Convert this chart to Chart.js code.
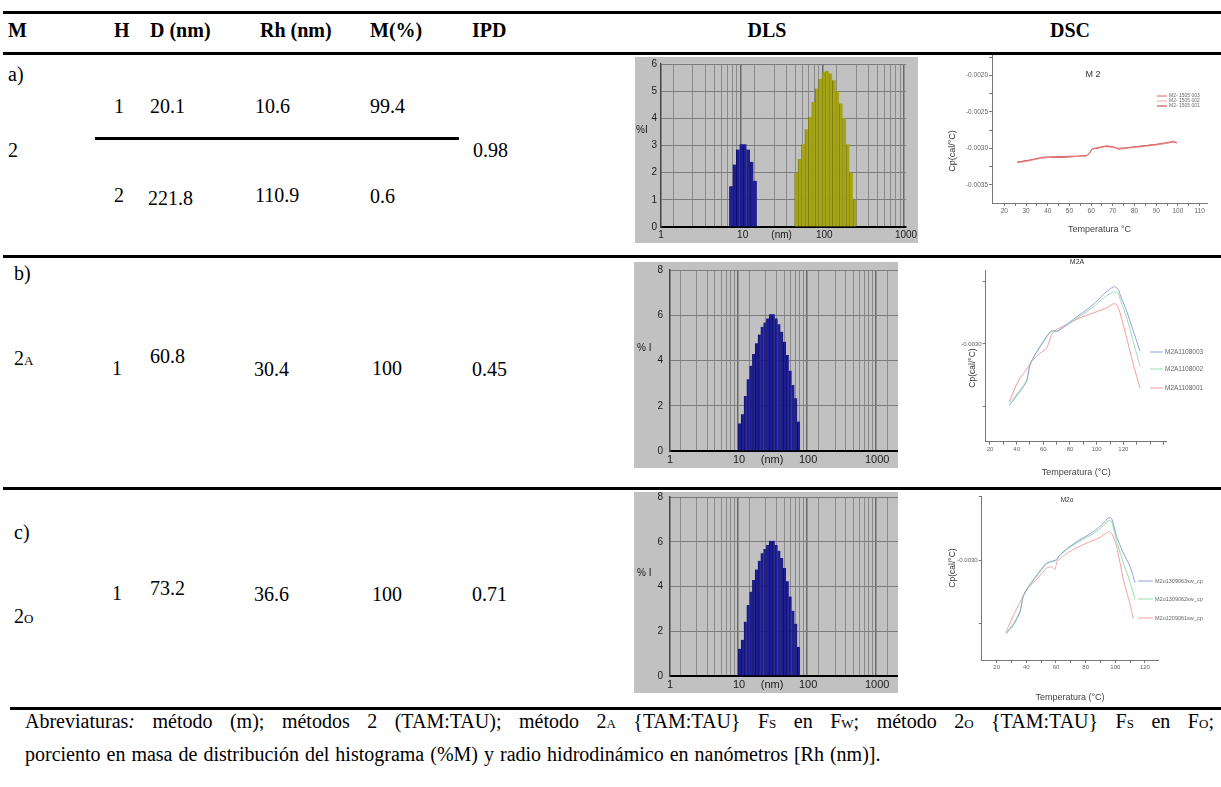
<!DOCTYPE html>
<html lang="es">
<head>
  <meta charset="UTF-8">
  <title>M2: DLS y DSC</title>
  <script src="https://cdn.jsdelivr.net/npm/chart.js"></script>
  <style>
    body {
      margin: 0;
      width: 1221px;
      height: 787px;
      position: relative;
      overflow: hidden;
      background: #fff;
      font-family: 'Liberation Serif', 'Times New Roman', serif;
      color: #000;
    }
    .t { position: absolute; font-size: 20px; line-height: 20px; white-space: nowrap; }
    .hd { font-weight: bold; }
    .c { transform: translateX(-50%); }
    .sm { font-size: 13px; }
    .rule { position: absolute; height: 3px; background: #000; }
    .plot { position: absolute; }
    .dls { background: #c1c1c1; }
    .foot { position: absolute; left: 25px; font-size: 20px; line-height: 20px; white-space: nowrap; }
    .foot .sm { font-size: 13px; }
  </style>
</head>
<body>
  <!-- reglas de la tabla -->
  <div class="rule" style="left:3px;top:11px;width:1218px"></div>
  <div class="rule" style="left:3px;top:52px;width:1218px"></div>
  <div class="rule" style="left:95px;top:137px;width:364px"></div>
  <div class="rule" style="left:3px;top:255px;width:1218px"></div>
  <div class="rule" style="left:3px;top:487px;width:1218px"></div>
  <div class="rule" style="left:10px;top:707px;width:1211px"></div>

  <!-- encabezado -->
  <div class="t hd" style="left:8px;top:20px">M</div>
  <div class="t hd" style="left:114px;top:20px">H</div>
  <div class="t hd" style="left:150px;top:20px">D (nm)</div>
  <div class="t hd" style="left:260px;top:20px">Rh (nm)</div>
  <div class="t hd" style="left:370px;top:20px">M(%)</div>
  <div class="t hd" style="left:472px;top:20px">IPD</div>
  <div class="t hd c" style="left:767px;top:20px">DLS</div>
  <div class="t hd c" style="left:1070px;top:20px">DSC</div>

  <!-- fila a -->
  <div class="t" style="left:8px;top:64px">a)</div>
  <div class="t" style="left:114px;top:96px">1</div>
  <div class="t" style="left:150px;top:96px">20.1</div>
  <div class="t" style="left:255px;top:96px">10.6</div>
  <div class="t" style="left:370px;top:96px">99.4</div>
  <div class="t" style="left:8px;top:140px">2</div>
  <div class="t" style="left:473px;top:140px">0.98</div>
  <div class="t" style="left:114px;top:185px">2</div>
  <div class="t" style="left:148px;top:188px">221.8</div>
  <div class="t" style="left:255px;top:185px">110.9</div>
  <div class="t" style="left:370px;top:186px">0.6</div>

  <!-- fila b -->
  <div class="t" style="left:14px;top:263px">b)</div>
  <div class="t" style="left:14px;top:348px">2<span class="sm">A</span></div>
  <div class="t" style="left:112px;top:358px">1</div>
  <div class="t" style="left:150px;top:346px">60.8</div>
  <div class="t" style="left:254px;top:359px">30.4</div>
  <div class="t" style="left:372px;top:358px">100</div>
  <div class="t" style="left:472px;top:359px">0.45</div>

  <!-- fila c -->
  <div class="t" style="left:14px;top:522px">c)</div>
  <div class="t" style="left:112px;top:583px">1</div>
  <div class="t" style="left:150px;top:578px">73.2</div>
  <div class="t" style="left:254px;top:584px">36.6</div>
  <div class="t" style="left:372px;top:584px">100</div>
  <div class="t" style="left:472px;top:584px">0.71</div>
  <div class="t" style="left:14px;top:606px">2<span class="sm">O</span></div>

  <!-- graficos -->
  <div class="plot dls" style="left:635px;top:57px;width:283px;height:186px"><canvas id="dlsA"></canvas></div>
  <div class="plot dls" style="left:634px;top:262px;width:264px;height:206px"><canvas id="dlsB"></canvas></div>
  <div class="plot dls" style="left:634px;top:492px;width:264px;height:201px"><canvas id="dlsC"></canvas></div>
  <div class="plot" style="left:940px;top:50px;width:275px;height:190px"><canvas id="dscA"></canvas></div>
  <div class="plot" style="left:940px;top:255px;width:275px;height:228px"><canvas id="dscB"></canvas></div>
  <div class="plot" style="left:940px;top:490px;width:275px;height:215px"><canvas id="dscC"></canvas></div>

  <!-- pie -->
  <div class="foot" style="top:711px;word-spacing:12.5px">Abreviaturas<i>:</i> método (m); métodos 2 (TAM:TAU); método 2<span class="sm">A</span> {TAM:TAU} F<span class="sm">S</span> en F<span class="sm">W</span>; método 2<span class="sm">O</span> {TAM:TAU} F<span class="sm">S</span> en F<span class="sm">O</span>;</div>
  <div class="foot" style="top:744px;word-spacing:1px">porciento en masa de distribución del histograma (%M) y radio hidrodinámico en nanómetros [Rh (nm)].</div>

  <script>
    // ---- DLS: centro de cada clase (nm) y % de intensidad ----
    const dlsA_blueX = [7.23, 7.96, 8.77, 9.66, 10.64, 11.72, 12.91, 14.22];
    const dlsA_blueY = [1.5, 2.3, 2.85, 3.05, 3.05, 2.85, 2.4, 1.7];
    const dlsA_oliveX = [45.4, 50.0, 55.1, 60.7, 66.8, 73.6, 81.1, 89.3, 98.4, 108.4, 119.4, 131.5, 144.9, 159.6, 175.8, 193.6, 213.3, 235.0];
    const dlsA_oliveY = [2.0, 2.5, 3.05, 3.6, 4.05, 4.6, 5.1, 5.45, 5.7, 5.75, 5.65, 5.4, 5.0, 4.55, 4.0, 3.05, 2.0, 1.0];
    const dlsB_X = [10.24, 11.24, 12.35, 13.56, 14.89, 16.34, 17.95, 19.71, 21.63, 23.76, 26.09, 28.64, 31.45, 34.53, 37.91, 41.63, 45.70, 50.18, 55.10, 60.49, 66.42, 72.93];
    const dlsB_Y = [1.22, 1.62, 2.43, 3.17, 3.77, 4.29, 4.76, 5.15, 5.49, 5.68, 5.86, 6.04, 6.04, 5.86, 5.6, 5.27, 4.83, 4.24, 3.55, 2.92, 2.33, 1.30];
    const dlsC_X = [10.24, 11.24, 12.35, 13.56, 14.89, 16.34, 17.95, 19.71, 21.63, 23.76, 26.09, 28.64, 31.45, 34.53, 37.91, 41.63, 45.70, 50.18, 55.10, 60.49, 66.42, 72.93];
    const dlsC_Y = [1.22, 1.62, 2.43, 3.17, 3.77, 4.29, 4.76, 5.15, 5.49, 5.68, 5.86, 6.04, 6.04, 5.86, 5.6, 5.27, 4.83, 4.24, 3.55, 2.92, 2.33, 1.30];

    const dlsTicksA = [1, 2, 3, 4, 5, 6, 7, 8, 9, 10, 20, 30, 40, 50, 60, 70, 80, 90, 100, 200, 300, 400, 500, 600, 700, 800, 900, 1000];
    const dlsTicksBC = [1, 2, 3, 4, 5, 6, 7, 8, 9, 10, 20, 30, 40, 50, 60, 70, 80, 90, 100, 200, 300, 400, 500, 600, 700, 800, 900, 1000, 2000];
    const dlsLabelValues = [1, 10, 30, 100, 1000];
    const dlsLabelTexts = ['1', '10', '(nm)', '100', '1000'];
    const dlsDecades = [1, 10, 100, 1000];

    // ---- DSC: temperatura (°C) y Cp (cal/°C) ----
    const dscA_T = [26, 32, 38, 49, 57.5, 59, 60.5, 63, 66.8, 70, 72.5, 80, 89, 95, 97.8, 99.5];
    const dscA_003 = [-0.00319, -0.00316, -0.00312, -0.00311, -0.00310, -0.00307, -0.00301, -0.00299, -0.00297, -0.00298, -0.00300, -0.00298, -0.00295, -0.00292, -0.00291, -0.00293];
    const dscA_002 = [-0.00320, -0.00317, -0.00313, -0.00311, -0.00311, -0.00308, -0.00302, -0.00299, -0.00298, -0.00299, -0.00300, -0.00299, -0.00296, -0.00293, -0.00290, -0.00292];
    const dscA_001 = [-0.00319, -0.00316, -0.00313, -0.00312, -0.00310, -0.00308, -0.00301, -0.00300, -0.00297, -0.00298, -0.00301, -0.00298, -0.00295, -0.00293, -0.00291, -0.00292];

    const dscB_T = [34.5, 42.5, 47.5, 50, 53.75, 60, 65, 67.5, 70, 72.5, 77.5, 87.5, 97.5, 105, 111.25, 113.75, 116.25, 117.5, 122.5, 127.5, 132.5];
    const dscB_003 = [-0.003491, -0.003379, -0.003299, -0.003165, -0.003085, -0.002979, -0.002904, -0.002893, -0.002899, -0.002885, -0.002845, -0.002765, -0.002685, -0.002605, -0.002552, -0.002544, -0.002565, -0.002605, -0.002739, -0.002899, -0.003059];
    const dscB_002 = [-0.003470, -0.003370, -0.003290, -0.003170, -0.003090, -0.002985, -0.002910, -0.002898, -0.002903, -0.002890, -0.002852, -0.002778, -0.002705, -0.002635, -0.002590, -0.002585, -0.002600, -0.002640, -0.002790, -0.002985, -0.003180];
    const dscB_001T = [34.5, 38.75, 42.5, 47.5, 51.25, 56.25, 62.5, 66.25, 68.75, 72.5, 77.5, 87.5, 97.5, 107.5, 112.5, 115, 117.5, 122.5, 127.5, 132.5];
    const dscB_001 = [-0.003459, -0.003352, -0.003272, -0.003205, -0.003139, -0.003085, -0.003032, -0.002925, -0.002893, -0.002872, -0.002845, -0.002792, -0.002752, -0.002712, -0.002680, -0.002685, -0.002752, -0.002952, -0.003165, -0.003352];

    const dscC_T = [26.3, 31.2, 35.7, 38.0, 42.5, 49.2, 53.7, 57.1, 60.4, 62.7, 69.4, 76.2, 85.2, 91.9, 95.3, 97.5, 100.9, 105.4, 109.9, 113.3];
    const dscC_063 = [-0.003578, -0.003513, -0.003409, -0.003280, -0.003189, -0.003085, -0.003021, -0.003008, -0.002995, -0.002956, -0.002891, -0.002839, -0.002775, -0.002710, -0.002666, -0.002671, -0.002813, -0.002943, -0.003047, -0.003176];
    const dscC_062 = [-0.003570, -0.003500, -0.003400, -0.003285, -0.003195, -0.003090, -0.003028, -0.003012, -0.003000, -0.002962, -0.002898, -0.002848, -0.002790, -0.002730, -0.002689, -0.002695, -0.002850, -0.003020, -0.003170, -0.003306];
    const dscC_061T = [26.3, 31.2, 35.7, 40.2, 47.0, 53.7, 57.1, 59.3, 60.9, 69.4, 80.7, 89.7, 95.3, 97.5, 100.9, 105.4, 109.9, 112.1];
    const dscC_061 = [-0.003565, -0.003435, -0.003332, -0.003228, -0.003150, -0.003060, -0.003052, -0.003073, -0.003008, -0.002930, -0.002865, -0.002821, -0.002775, -0.002788, -0.002891, -0.003150, -0.003345, -0.003461];

    const dscA_xTicks = [20, 25, 30, 35, 40, 45, 50, 55, 60, 65, 70, 75, 80, 85, 90, 95, 100, 105, 110];
    const dscA_xLabels = [20, 30, 40, 50, 60, 70, 80, 90, 100, 110];
    const dscA_yTicks = [-0.0035, -0.00325, -0.003, -0.00275, -0.0025, -0.00225, -0.002, -0.00175];
    const dscA_yLabels = [-0.0035, -0.003, -0.0025, -0.002];
    const dscB_xTicks = [20, 30, 40, 50, 60, 70, 80, 90, 100, 110, 120, 130, 140, 150];
    const dscBC_xLabels = [20, 40, 60, 80, 100, 120];
    const dscC_xTicks = [20, 30, 40, 50, 60, 70, 80, 90, 100, 110, 120];
    const dscBC_yTicks = [-0.0035, -0.003, -0.0025];
    const dscBC_yLabels = [-0.003];

    // textos y leyendas dibujados sobre el lienzo
    const extras = {
      id: 'extras',
      afterDraw(chart, args, o) {
        const ctx = chart.ctx;
        (o.texts || []).forEach(t => {
          ctx.save();
          ctx.font = t.size + 'px "Liberation Sans", Arial, sans-serif';
          ctx.fillStyle = t.color || '#333';
          ctx.textAlign = t.align || 'center';
          ctx.textBaseline = 'middle';
          ctx.translate(t.x, t.y);
          if (t.rotate) ctx.rotate(-Math.PI / 2);
          ctx.fillText(t.text, 0, 0);
          ctx.restore();
        });
        if (o.legend) {
          const L = o.legend;
          chart.data.datasets.forEach((ds, i) => {
            const y = L.ys[i];
            ctx.save();
            ctx.strokeStyle = ds.borderColor;
            ctx.lineWidth = 1;
            ctx.beginPath();
            ctx.moveTo(L.x, y);
            ctx.lineTo(L.x + L.w, y);
            ctx.stroke();
            ctx.font = L.size + 'px "Liberation Sans", Arial, sans-serif';
            ctx.fillStyle = '#666';
            ctx.textBaseline = 'middle';
            ctx.fillText(ds.label, L.x + L.w + 2, y);
            ctx.restore();
          });
        }
      }
    };
    Chart.register(extras);

    const near = (list, v) => list.some(l => Math.abs(l - v) < 1e-9);

    function dls(id, sets, cfg) {
      return new Chart(document.getElementById(id), {
        type: 'bar',
        data: {
          datasets: sets.map(s => ({
            data: s.x.map((v, i) => ({ x: v, y: s.y[i] })),
            backgroundColor: s.color,
            borderColor: s.edge,
            borderWidth: { left: 0.8, right: 0, top: 0, bottom: 0 },
            borderSkipped: false,
            barPercentage: 1,
            categoryPercentage: 1,
            grouped: false
          }))
        },
        options: {
          responsive: true,
          maintainAspectRatio: false,
          animation: false,
          events: [],
          layout: { padding: { top: cfg.pad[0], right: cfg.pad[1] } },
          plugins: {
            legend: { display: false },
            tooltip: { enabled: false },
            extras: { texts: cfg.texts }
          },
          scales: {
            x: {
              type: 'logarithmic',
              min: 1,
              max: cfg.xMax,
              afterBuildTicks: s => { s.ticks = cfg.xTicks.map(v => ({ value: v })); },
              afterFit: s => { s.height = cfg.pad[2]; s.paddingLeft = 0; s.paddingRight = 0; },
              ticks: {
                autoSkip: false,
                maxRotation: 0,
                padding: 2,
                color: '#1a1a1a',
                font: { family: 'Liberation Sans', size: cfg.xFont },
                callback: v => {
                  const k = dlsLabelValues.indexOf(v);
                  return k >= 0 ? dlsLabelTexts[k] : '';
                }
              },
              grid: {
                drawTicks: false,
                color: c => dlsDecades.includes(c.tick && c.tick.value) ? '#6a6a6a' : '#8a8a8a',
                lineWidth: c => dlsDecades.includes(c.tick && c.tick.value) ? 1.5 : 1
              },
              border: { color: '#000', width: 2 }
            },
            y: {
              min: 0,
              max: cfg.yMax,
              afterFit: s => { s.width = cfg.pad[3]; s.paddingTop = 0; s.paddingBottom = 0; },
              ticks: {
                stepSize: cfg.yStep,
                padding: cfg.yPad,
                color: '#1a1a1a',
                font: { family: 'Liberation Sans', size: 10 }
              },
              grid: { drawTicks: false, color: '#7c7c7c' },
              border: { color: '#444', width: 1.5 }
            }
          }
        }
      });
    }

    function dsc(id, sets, cfg) {
      return new Chart(document.getElementById(id), {
        type: 'line',
        data: {
          datasets: sets.map(s => ({
            label: s.label,
            data: s.x.map((v, i) => ({ x: v, y: s.y[i] })),
            borderColor: s.color,
            borderWidth: 1,
            pointRadius: 0,
            fill: false,
            tension: 0.2
          }))
        },
        options: {
          responsive: true,
          maintainAspectRatio: false,
          animation: false,
          events: [],
          layout: { padding: { top: cfg.pad[0], right: cfg.pad[1] } },
          plugins: {
            legend: { display: false },
            tooltip: { enabled: false },
            extras: { texts: cfg.texts, legend: cfg.legend }
          },
          scales: {
            x: {
              type: 'linear',
              min: cfg.xr[0],
              max: cfg.xr[1],
              afterBuildTicks: s => { s.ticks = cfg.xTicks.map(v => ({ value: v })); },
              afterFit: s => { s.height = cfg.pad[2]; s.paddingLeft = 0; s.paddingRight = 0; },
              ticks: {
                autoSkip: false,
                maxRotation: 0,
                padding: 1,
                color: '#666',
                font: { family: 'Liberation Sans', size: cfg.tick },
                callback: v => near(cfg.xLabels, v) ? String(v) : ''
              },
              grid: { drawOnChartArea: false, tickLength: 3, color: '#777' },
              border: { color: '#777', width: 1 },
              title: {
                display: true,
                text: cfg.xTitle,
                color: '#444',
                font: { family: 'Liberation Sans', size: 9 },
                padding: { top: 0, bottom: cfg.xTitlePad }
              }
            },
            y: {
              min: cfg.yr[0],
              max: cfg.yr[1],
              afterBuildTicks: s => { s.ticks = cfg.yTicks.map(v => ({ value: v })); },
              afterFit: s => { s.width = cfg.pad[3]; s.paddingTop = 0; s.paddingBottom = 0; },
              ticks: {
                padding: 1,
                color: '#666',
                font: { family: 'Liberation Sans', size: cfg.tick },
                callback: v => near(cfg.yLabels, v) ? v.toFixed(4) : ''
              },
              grid: { drawOnChartArea: false, tickLength: 3, color: '#777' },
              border: { color: '#777', width: 1 }
            }
          }
        }
      });
    }

    // pad = [arriba, derecha, alto eje x, ancho eje y]
    dls('dlsA', [
      { x: dlsA_blueX, y: dlsA_blueY, color: '#1e1e96', edge: '#0c0c5c' },
      { x: dlsA_oliveX, y: dlsA_oliveY, color: '#a6a614', edge: '#74740a' }
    ], { pad: [7, 12, 16, 26], xMax: 1000, xTicks: dlsTicksA, xFont: 10, yMax: 6, yStep: 1, yPad: 4,
         texts: [{ text: '%I', x: 1, y: 73, size: 10, align: 'left', color: '#1a1a1a' }] });

    dls('dlsB', [
      { x: dlsB_X, y: dlsB_Y, color: '#1e1e96', edge: '#0c0c5c' }
    ], { pad: [8, 0, 17, 36], xMax: 2000, xTicks: dlsTicksBC, xFont: 11, yMax: 8, yStep: 2, yPad: 7,
         texts: [{ text: '% I', x: 3, y: 86, size: 10, align: 'left', color: '#1a1a1a' }] });

    dls('dlsC', [
      { x: dlsC_X, y: dlsC_Y, color: '#1e1e96', edge: '#0c0c5c' }
    ], { pad: [5, 0, 17, 36], xMax: 2000, xTicks: dlsTicksBC, xFont: 11, yMax: 8, yStep: 2, yPad: 7,
         texts: [{ text: '% I', x: 3, y: 81, size: 10, align: 'left', color: '#1a1a1a' }] });

    dsc('dscA', [
      { label: 'M2- 1505 003', x: dscA_T, y: dscA_003, color: '#e06a66' },
      { label: 'M2- 1505 002', x: dscA_T, y: dscA_002, color: '#f2a4a4' },
      { label: 'M2- 1505 001', x: dscA_T, y: dscA_001, color: '#b8383c' }
    ], { pad: [5, 8, 37, 52], xr: [14.3, 113.4], yr: [-0.00375, -0.00172],
         xTicks: dscA_xTicks, xLabels: dscA_xLabels, yTicks: dscA_yTicks, yLabels: dscA_yLabels,
         tick: 6.5, xTitle: 'Temperatura °C', xTitlePad: 4.6,
         texts: [{ text: 'M 2', x: 153, y: 25, size: 9 },
                 { text: 'Cp(cal/°C)', x: 13, y: 101, size: 9, rotate: true }],
         legend: { x: 217, w: 10, ys: [46, 51, 56], size: 5 } });

    dsc('dscB', [
      { label: 'M2A1108003', x: dscB_T, y: dscB_003, color: '#8f9ee0' },
      { label: 'M2A1108002', x: dscB_T, y: dscB_002, color: '#9ddcb4' },
      { label: 'M2A1108001', x: dscB_001T, y: dscB_001, color: '#f29a9a' }
    ], { pad: [15, 48.3, 41.3, 45.7], xr: [16.8, 152.5], yr: [-0.00378, -0.00241],
         xTicks: dscB_xTicks, xLabels: dscBC_xLabels, yTicks: dscBC_yTicks, yLabels: dscBC_yLabels,
         tick: 6, xTitle: 'Temperatura (°C)', xTitlePad: 4.6,
         texts: [{ text: 'M2A', x: 137, y: 7, size: 7 },
                 { text: 'Cp(cal/°C)', x: 33, y: 113, size: 8.5, rotate: true }],
         legend: { x: 210, w: 13, ys: [97, 114, 133], size: 6.5 } });

    dsc('dscC', [
      { label: 'M2o1309063sw_cp', x: dscC_T, y: dscC_063, color: '#8f9ee0' },
      { label: 'M2o1309062sw_cp', x: dscC_T, y: dscC_062, color: '#8fe0a8' },
      { label: 'M2o1209061sw_cp', x: dscC_061T, y: dscC_061, color: '#f2a0a0' }
    ], { pad: [6.7, 56.7, 45, 41.7], xr: [9.9, 129], yr: [-0.003785, -0.0025],
         xTicks: dscC_xTicks, xLabels: dscBC_xLabels, yTicks: dscBC_yTicks, yLabels: dscBC_yLabels,
         tick: 6, xTitle: 'Temperatura (°C)', xTitlePad: 1.6,
         texts: [{ text: 'M2o', x: 127, y: 10, size: 6.5 },
                 { text: 'Cp(cal/°C)', x: 13, y: 78, size: 8.5, rotate: true }],
         legend: { x: 198, w: 15, ys: [91, 109, 128], size: 5.5 } });
  </script>
</body>
</html>
